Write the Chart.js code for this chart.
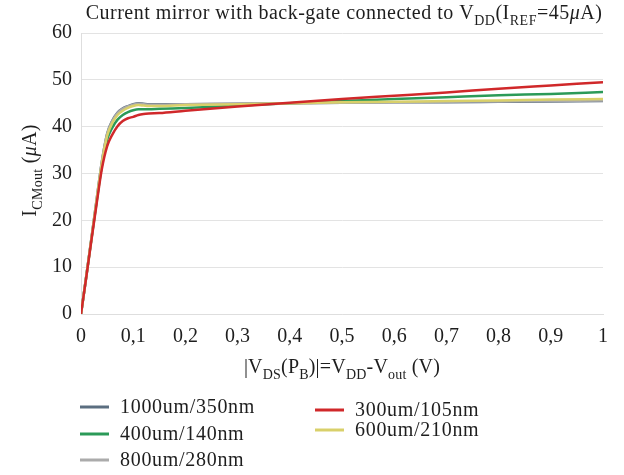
<!DOCTYPE html>
<html>
<head>
<meta charset="utf-8">
<script src="https://cdn.jsdelivr.net/npm/chart.js@4.4.0/dist/chart.umd.min.js"></script>
<style>
  html, body { margin: 0; padding: 0; background: #fff; }
  #wrap { width: 624px; height: 475px; }
</style>
</head>
<body>
<div id="wrap"><canvas id="mirrorChart" width="624" height="475"></canvas></div>
<script>
// |VDS(PB)| sweep points (V)
const vds = [0, 0.01, 0.02, 0.03, 0.04, 0.05, 0.06, 0.07, 0.08, 0.09, 0.10, 0.11, 0.12, 0.13, 0.15, 0.2, 0.3, 0.4, 0.5, 0.6, 0.7, 0.8, 0.9, 1.0];

// Output current ICMout (uA) for each W/L
const i1000_350 = [0, 8.0, 16.2, 24.5, 32.6, 38.5, 41.3, 43.0, 43.9, 44.4, 44.8, 45.0, 44.9, 44.8, 44.8, 44.8, 44.9, 45.0, 45.1, 45.2, 45.2, 45.3, 45.4, 45.5];
const i400_140 = [0, 7.9, 16.0, 24.0, 31.7, 37.2, 39.8, 41.5, 42.5, 43.1, 43.5, 43.7, 43.7, 43.7, 43.8, 44.0, 44.5, 45.0, 45.5, 45.9, 46.3, 46.7, 47.0, 47.4];
const i800_280 = [0, 8.0, 16.2, 24.5, 32.5, 38.4, 41.2, 42.9, 43.8, 44.3, 44.7, 44.9, 44.8, 44.7, 44.7, 44.8, 44.9, 45.0, 45.1, 45.2, 45.3, 45.4, 45.5, 45.6];
const i300_105 = [0, 7.8, 15.8, 23.6, 31.0, 35.8, 38.3, 40.1, 41.2, 41.8, 42.1, 42.5, 42.7, 42.8, 42.9, 43.4, 44.3, 45.1, 45.9, 46.6, 47.3, 48.1, 48.8, 49.5];
const i600_210 = [0, 8.0, 16.1, 24.3, 32.2, 38.0, 40.8, 42.5, 43.4, 44.0, 44.4, 44.6, 44.5, 44.4, 44.4, 44.6, 44.8, 45.0, 45.2, 45.3, 45.5, 45.6, 45.8, 45.9];

const seriesNames = ['1000um/350nm', '400um/140nm', '800um/280nm', '300um/105nm', '600um/210nm'];
const seriesValues = [i1000_350, i400_140, i800_280, i300_105, i600_210];
const seriesColors = ['#5b6e80', '#2b9a58', '#ababab', '#d0282a', '#d9d06a'];
const drawOrder = [4, 3, 2, 0, 1];

const xTicks = [0, 0.1, 0.2, 0.3, 0.4, 0.5, 0.6, 0.7, 0.8, 0.9, 1];
const yTicks = [0, 10, 20, 30, 40, 50, 60];

const serif = '"Liberation Serif", "DejaVu Serif", serif';
const ink = '#1e1e1e';

// text runs with subscripts / italics
function runFont(p, size) {
  const s = p.sub ? size * 0.7 : size;
  return (p.it ? 'italic ' : '') + s + 'px ' + serif;
}
function runWidth(ctx, parts, size) {
  let w = 0;
  parts.forEach(p => { ctx.font = runFont(p, size); w += ctx.measureText(p.t).width; });
  return w;
}
function drawRuns(ctx, parts, x, y, size) {
  parts.forEach(p => {
    ctx.font = runFont(p, size);
    ctx.fillText(p.t, x, y + (p.sub ? size * 0.3 : 0));
    x += ctx.measureText(p.t).width;
  });
}
function drawCentered(ctx, parts, cx, y, size, spacing) {
  ctx.letterSpacing = spacing;
  const w = runWidth(ctx, parts, size);
  drawRuns(ctx, parts, cx - w / 2, y, size);
  ctx.letterSpacing = '0px';
}

const titleRuns = [
  { t: 'Current mirror with back-gate connected to V' }, { t: 'DD', sub: true },
  { t: '(I' }, { t: 'REF', sub: true }, { t: '=45' }, { t: 'μ', it: true }, { t: 'A)' }
];
const yTitleRuns = [{ t: 'I' }, { t: 'CMout', sub: true }, { t: ' (' }, { t: 'μ', it: true }, { t: 'A)' }];
const xTitleRuns = [
  { t: '|V' }, { t: 'DS', sub: true }, { t: '(P' }, { t: 'B', sub: true }, { t: ')|=V' },
  { t: 'DD', sub: true }, { t: '-V' }, { t: 'out', sub: true }, { t: ' (V)' }
];

const legendSlots = [[80, 407], [80, 434], [80, 460], [315, 410], [315, 430]];

const labelsPlugin = {
  id: 'labels',
  afterDraw(chart) {
    const ctx = chart.ctx;
    const area = chart.chartArea;
    ctx.save();
    ctx.fillStyle = ink;
    ctx.textBaseline = 'alphabetic';
    ctx.textAlign = 'left';

    // chart title
    drawCentered(ctx, titleRuns, 344, 19, 20, '0.5px');

    // x axis title
    drawCentered(ctx, xTitleRuns, 342, 373, 20, '0.2px');

    // y axis title, rotated
    ctx.save();
    ctx.translate(36, (area.top + area.bottom) / 2 - 3);
    ctx.rotate(-Math.PI / 2);
    drawCentered(ctx, yTitleRuns, 0, 0, 20, '0.3px');
    ctx.restore();

    // legend
    ctx.textBaseline = 'middle';
    chart.data.datasets.forEach((ds, i) => {
      const [lx, ly] = legendSlots[i];
      ctx.strokeStyle = ds.borderColor;
      ctx.lineWidth = 3;
      ctx.beginPath();
      ctx.moveTo(lx, ly);
      ctx.lineTo(lx + 29, ly);
      ctx.stroke();
      ctx.font = '20px ' + serif;
      ctx.letterSpacing = '0.7px';
      ctx.fillStyle = ink;
      ctx.fillText(ds.label, lx + 40, ly + 1);
      ctx.letterSpacing = '0px';
    });
    ctx.restore();
  }
};

const datasets = seriesNames.map((name, i) => ({
  label: name,
  data: vds.map((v, k) => ({ x: v, y: seriesValues[i][k] })),
  borderColor: seriesColors[i],
  backgroundColor: seriesColors[i],
  borderWidth: 2.5,
  pointRadius: 0,
  cubicInterpolationMode: 'monotone',
  order: drawOrder[i],
  fill: false
}));

const ctx = document.getElementById('mirrorChart').getContext('2d');
const mirrorChart = new Chart(ctx, {
  type: 'line',
  data: { datasets: datasets },
  options: {
    responsive: false,
    animation: false,
    layout: { padding: { top: 33, right: 21, left: 0, bottom: 0 } },
    plugins: {
      legend: { display: false },
      title: { display: false },
      tooltip: { enabled: false }
    },
    scales: {
      x: {
        type: 'linear',
        min: xTicks[0],
        max: xTicks[xTicks.length - 1],
        afterBuildTicks: scale => { scale.ticks = xTicks.map(v => ({ value: v })); },
        afterFit: scale => { scale.height = 161; },
        grid: { display: false, drawTicks: false },
        border: { display: true, color: '#dedede', width: 1 },
        ticks: {
          color: ink,
          padding: 11,
          maxRotation: 0,
          font: { family: serif, size: 20 },
          callback: v => (v === 0 || v === 1) ? String(v) : v.toFixed(1).replace('.', ',')
        }
      },
      y: {
        min: yTicks[0],
        max: yTicks[yTicks.length - 1],
        afterBuildTicks: scale => { scale.ticks = yTicks.map(v => ({ value: v })); },
        afterFit: scale => { scale.width = 81; },
        grid: { color: '#e3e3e3', drawTicks: false, lineWidth: 1 },
        border: { display: true, color: '#dedede', width: 1 },
        ticks: {
          color: ink,
          padding: 9,
          font: { family: serif, size: 20 }
        }
      }
    }
  },
  plugins: [labelsPlugin]
});
</script>
</body>
</html>
